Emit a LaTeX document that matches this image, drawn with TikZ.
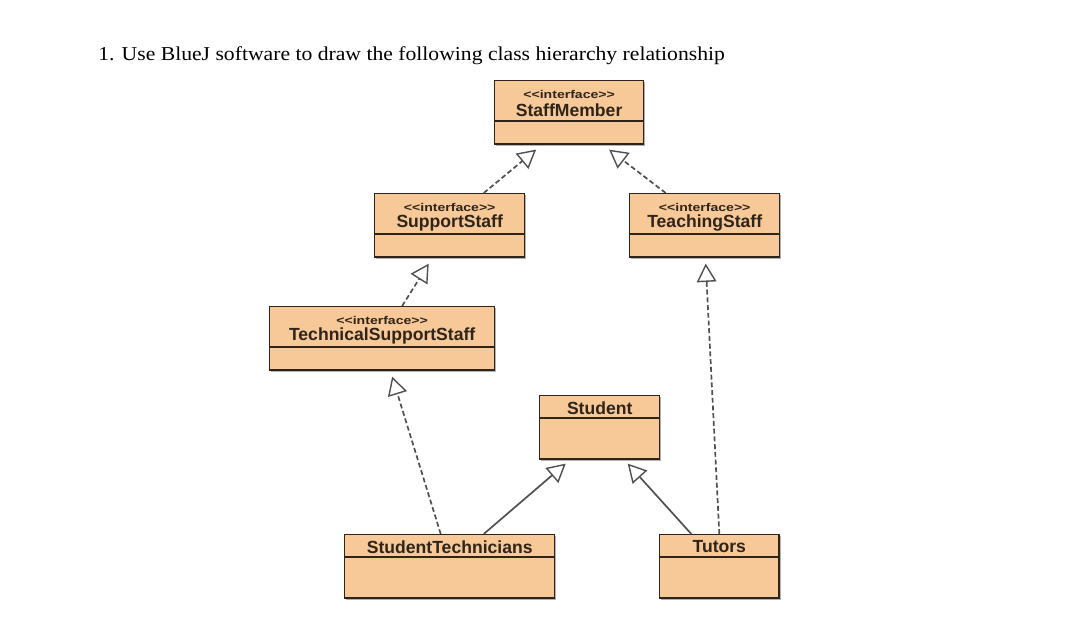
\documentclass[tikz,border=0pt]{standalone}
\usepackage{fontspec}
\setmainfont{Liberation Serif}
\setsansfont{Liberation Sans}
\usetikzlibrary{arrows.meta,positioning,calc,shadows}

\definecolor{umlfill}{HTML}{F7C898}
\definecolor{umlline}{HTML}{2E241A}
\definecolor{edgegray}{HTML}{505050}

\newcommand{\stereo}{\scalebox{1.25}[1]{\fontsize{8}{9}\selectfont\bfseries <{}<interface>{}>}}

\begin{document}
\begin{tikzpicture}[
  x=0.025cm, y=-0.025cm,
  cls/.style={draw=umlline, fill=umlfill, line width=1pt, anchor=north west,
              inner sep=0pt, minimum height=1.58cm,
              drop shadow={shadow xshift=1.2pt, shadow yshift=-1.2pt,
                           fill=black!60, opacity=0.5}},
  clsname/.style={font=\sffamily\bfseries\fontsize{12.5}{13}\selectfont,
                  text=umlline, inner sep=0pt},
  stype/.style={font=\sffamily, text=umlline, inner sep=0pt},
  divider/.style={draw=umlline, line width=0.9pt},
  realize/.style={draw=edgegray, line width=1.2pt, dash pattern=on 3.5pt off 2pt,
                  -{Triangle[open, length=13pt, width=14pt, line width=1pt]}},
  extend/.style={draw=edgegray, line width=1.2pt,
                 -{Triangle[open, length=13pt, width=14pt, line width=1pt]}},
  task/.style={font=\fontsize{14}{16}\selectfont, inner sep=0pt, anchor=base west}
]
\fill[white] (0,0) rectangle (1080,632);
\useasboundingbox (0,0) rectangle (1080,632);

\node[task] (title) at (98,60) {\scalebox{1.1}[1]{1. Use BlueJ software to draw the following class hierarchy relationship}};

% interfaces
\node[cls, minimum width=3.72cm] (staff) at (494,80) {};
\node[cls, minimum width=3.75cm] (support) at (374,193) {};
\node[cls, minimum width=3.75cm] (teaching) at (629,193) {};
\node[cls, minimum width=5.62cm] (tech) at (269,306) {};

% classes
\node[cls, minimum width=3cm] (student) at (539,395) {};
\node[cls, minimum width=5.25cm] (studtech) at (344,534) {};
\node[cls, minimum width=2.98cm] (tutors) at (659,534) {};

% compartments
\foreach \n in {staff,support,teaching,tech} {
  \draw[divider] ($(\n.north west)+(0,41)$) -- ($(\n.north east)+(0,41)$);
  \node[stype] (\n-st) at ($(\n.north)+(0,14)$) {\stereo};
}
\foreach \n in {student,studtech,tutors}
  \draw[divider] ($(\n.north west)+(0,23)$) -- ($(\n.north east)+(0,23)$);

\node[clsname] (staff-nm) at ($(staff.north)+(0,30)$) {StaffMember};
\node[clsname] (support-nm) at ($(support.north)+(0,30)$) {SupportStaff};
\node[clsname] (teaching-nm) at ($(teaching.north)+(0,30)$) {TeachingStaff};
\node[clsname] (tech-nm) at ($(tech.north)+(0,30)$) {TechnicalSupportStaff};
\node[clsname] (student-nm) at ($(student.north)+(0,13)$) {Student};
\node[clsname] (studtech-nm) at ($(studtech.north)+(0,13)$) {StudentTechnicians};
\node[clsname] (tutors-nm) at ($(tutors.north)+(0,13)$) {Tutors};

% realization
\draw[realize] ($(support.north)+(34,0)$) -- ($(staff.south)+(-33,5)$);
\draw[realize] ($(teaching.north)+(-39,0)$) -- ($(staff.south)+(40,5)$);
\draw[realize] ($(tech.north)+(20,0)$) -- ($(support.south)+(-21,6)$);
\draw[realize] ($(studtech.north)+(-9,0)$) -- ($(tech.south)+(10,6)$);
\draw[realize] (tutors.north) -- ($(teaching.south)+(1,6)$);

% inheritance
\draw[extend] ($(studtech.north)+(34,0)$) -- ($(student.south)+(-34,4)$);
\draw[extend] ($(tutors.north)+(-28,0)$) -- ($(student.south)+(28,4)$);
\end{tikzpicture}
\end{document}
